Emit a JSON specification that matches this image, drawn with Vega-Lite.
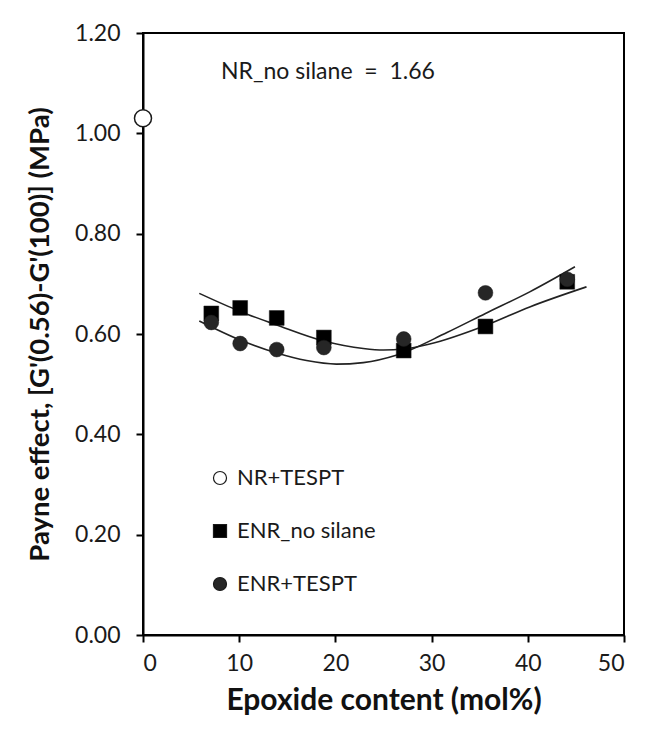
{
  "$schema": "https://vega.github.io/schema/vega-lite/v6.json",
  "width": 481,
  "height": 602,
  "autosize": "none",
  "padding": {"left": 143, "top": 33, "right": 23, "bottom": 110},
  "background": "white",
  "config": {
    "font": "Lato",
    "view": {"stroke": "black", "strokeWidth": 2},
    "axis": {
      "grid": false,
      "domainColor": "black",
      "domainWidth": 2,
      "tickColor": "black",
      "tickWidth": 2,
      "tickSize": 7,
      "labelFontSize": 23,
      "labelColor": "#1a1a1a",
      "titleColor": "#111",
      "titleFontWeight": "bold",
      "labelFont": "Lato",
      "titleFont": "Lato"
    }
  },
  "datasets": {
    "pts": [
      {"x": 0, "y": 1.03, "series": "NR+TESPT"},
      {"x": 7.1, "y": 0.641, "series": "ENR_no silane"},
      {"x": 10.1, "y": 0.652, "series": "ENR_no silane"},
      {"x": 13.9, "y": 0.632, "series": "ENR_no silane"},
      {"x": 18.8, "y": 0.593, "series": "ENR_no silane"},
      {"x": 27.1, "y": 0.567, "series": "ENR_no silane"},
      {"x": 35.6, "y": 0.615, "series": "ENR_no silane"},
      {"x": 44.1, "y": 0.704, "series": "ENR_no silane"},
      {"x": 7.1, "y": 0.623, "series": "ENR+TESPT"},
      {"x": 10.1, "y": 0.581, "series": "ENR+TESPT"},
      {"x": 13.9, "y": 0.569, "series": "ENR+TESPT"},
      {"x": 18.8, "y": 0.573, "series": "ENR+TESPT"},
      {"x": 27.1, "y": 0.590, "series": "ENR+TESPT"},
      {"x": 35.6, "y": 0.682, "series": "ENR+TESPT"},
      {"x": 44.1, "y": 0.709, "series": "ENR+TESPT"}
    ],
    "trend": [
      {"x": 5.85, "y": 0.681, "series": "ENR_no silane"},
      {"x": 10.1, "y": 0.645, "series": "ENR_no silane"},
      {"x": 13.9, "y": 0.618, "series": "ENR_no silane"},
      {"x": 18.8, "y": 0.586, "series": "ENR_no silane"},
      {"x": 22.9, "y": 0.571, "series": "ENR_no silane"},
      {"x": 25.0, "y": 0.568, "series": "ENR_no silane"},
      {"x": 27.1, "y": 0.570, "series": "ENR_no silane"},
      {"x": 29.8, "y": 0.580, "series": "ENR_no silane"},
      {"x": 35.6, "y": 0.617, "series": "ENR_no silane"},
      {"x": 40.2, "y": 0.654, "series": "ENR_no silane"},
      {"x": 46.1, "y": 0.694, "series": "ENR_no silane"},
      {"x": 5.85, "y": 0.626, "series": "ENR+TESPT"},
      {"x": 10.1, "y": 0.588, "series": "ENR+TESPT"},
      {"x": 13.9, "y": 0.562, "series": "ENR+TESPT"},
      {"x": 17.0, "y": 0.547, "series": "ENR+TESPT"},
      {"x": 20.1, "y": 0.540, "series": "ENR+TESPT"},
      {"x": 22.9, "y": 0.543, "series": "ENR+TESPT"},
      {"x": 26.4, "y": 0.558, "series": "ENR+TESPT"},
      {"x": 31.6, "y": 0.603, "series": "ENR+TESPT"},
      {"x": 35.6, "y": 0.641, "series": "ENR+TESPT"},
      {"x": 40.2, "y": 0.684, "series": "ENR+TESPT"},
      {"x": 44.9, "y": 0.734, "series": "ENR+TESPT"}
    ],
    "note": [{"x": 8.1, "y": 1.122, "label": "NR_no silane\u00a0\u00a0=\u00a0\u00a01.66"}]
  },
  "layer": [
    {
      "data": {"name": "trend"},
      "mark": {"type": "line", "color": "#222", "strokeWidth": 1.6, "interpolate": "monotone"},
      "encoding": {
        "x": {"field": "x", "type": "quantitative"},
        "y": {"field": "y", "type": "quantitative"},
        "detail": {"field": "series"}
      }
    },
    {
      "data": {"name": "pts"},
      "transform": [{"filter": "datum.series !== 'NR+TESPT'"}],
      "mark": {"type": "point", "filled": true, "opacity": 1, "size": 220, "stroke": "#1a1a1a", "strokeWidth": 0.5},
      "encoding": {
        "x": {
          "field": "x", "type": "quantitative",
          "scale": {"domain": [0, 50], "nice": false, "zero": false},
          "axis": {"values": [0, 10, 20, 30, 40, 50], "title": "Epoxide content (mol%)", "titleFontSize": 30, "labelPadding": 10, "titlePadding": 10}
        },
        "y": {
          "field": "y", "type": "quantitative",
          "scale": {"domain": [0, 1.2], "nice": false},
          "axis": {"values": [0, 0.2, 0.4, 0.6, 0.8, 1.0, 1.2], "format": ".2f", "title": "Payne effect, [G'(0.56)-G'(100)] (MPa)", "titleFontSize": 27.5, "labelPadding": 16, "titlePadding": 20}
        },
        "shape": {
          "field": "series", "type": "nominal",
          "scale": {"domain": ["NR+TESPT", "ENR_no silane", "ENR+TESPT"], "range": ["circle", "square", "circle"]},
          "legend": {"title": null}
        },
        "fill": {
          "field": "series", "type": "nominal",
          "scale": {"domain": ["NR+TESPT", "ENR_no silane", "ENR+TESPT"], "range": ["white", "black", "#262626"]},
          "legend": {
            "title": null, "orient": "none", "legendX": 66, "legendY": 434,
            "labelFontSize": 22, "labelColor": "#1a1a1a", "symbolSize": 170,
            "symbolStrokeColor": "#1a1a1a", "symbolStrokeWidth": 1.2, "rowPadding": 31, "labelOffset": 6, "symbolOpacity": 1
          }
        }
      }
    },
    {
      "data": {"name": "pts"},
      "transform": [{"filter": "datum.series === 'NR+TESPT'"}],
      "mark": {"type": "point", "filled": true, "opacity": 1, "size": 290, "stroke": "#1a1a1a", "strokeWidth": 1.5, "clip": false},
      "encoding": {
        "x": {"field": "x", "type": "quantitative"},
        "y": {"field": "y", "type": "quantitative"},
        "shape": {"field": "series", "type": "nominal"},
        "fill": {"field": "series", "type": "nominal"}
      }
    },
    {
      "data": {"name": "note"},
      "mark": {"type": "text", "align": "left", "baseline": "middle", "fontSize": 23, "font": "Lato", "color": "#1a1a1a"},
      "encoding": {
        "x": {"field": "x", "type": "quantitative"},
        "y": {"field": "y", "type": "quantitative"},
        "text": {"field": "label"}
      }
    }
  ]
}
